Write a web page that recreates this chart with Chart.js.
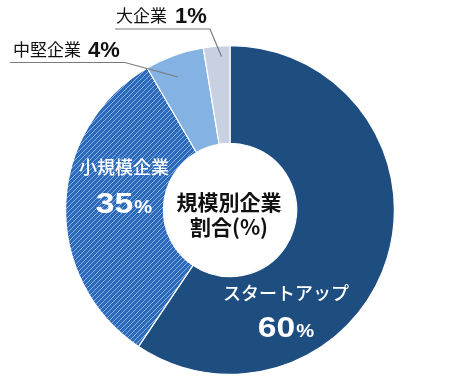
<!DOCTYPE html>
<html><head><meta charset="utf-8">
<script src="https://cdn.jsdelivr.net/npm/chart.js@4"></script>
<style>html,body{margin:0;padding:0;background:#fff}#wrap{width:450px;height:380px;position:relative}</style>
</head><body><div id="wrap"><canvas id="c" width="450" height="380"></canvas></div>
<script>
// Data (slice sizes as drawn, in %)
const categories = ['スタートアップ', '小規模企業', '中堅企業', '大企業'];
const sliceValues = [59.4, 32.2, 5.8, 2.6];
const labelPercents = ['60', '35', '4', '1'];
const centerTitle = ['規模別企業', '割合(%)'];

const JP = '"Noto Sans CJK JP", "Noto Sans", sans-serif';
const NUM = '"Liberation Sans", Arial, sans-serif';

function hatch(){
  const s = 5;
  const p = document.createElement('canvas');
  p.width = s; p.height = s;
  const g = p.getContext('2d');
  g.fillStyle = '#2d6bba';
  g.fillRect(0,0,s,s);
  g.strokeStyle = 'rgba(150,190,240,0.85)';
  g.lineWidth = 1;
  g.beginPath();
  g.moveTo(-1, s+1); g.lineTo(s+1, -1);
  g.moveTo(-1, 1); g.lineTo(1, -1);
  g.moveTo(s-1, s+1); g.lineTo(s+1, s-1);
  g.stroke();
  return document.getElementById('c').getContext('2d').createPattern(p, 'repeat');
}

const labelsPlugin = {
  id: 'labels',
  afterDraw(chart){
    const ctx = chart.ctx;
    const arc = chart.getDatasetMeta(0).data[0];
    const cx = arc.x, cy = arc.y;
    ctx.save();
    // center title
    ctx.fillStyle = '#111';
    ctx.textAlign = 'center';
    ctx.textBaseline = 'alphabetic';
    ctx.font = 'bold 21px ' + JP;
    ctx.fillText(centerTitle[0], cx - 1, cy - 0.5);
    ctx.fillText(centerTitle[1], cx - 1, cy + 24.5);

    // inner labels
    function inner(name, pct, x, yName, yPct){
      ctx.fillStyle = '#fff';
      ctx.textAlign = 'center';
      ctx.font = '500 18px ' + JP;
      ctx.fillText(name, x, yName);
      const sx = 1.12;
      ctx.font = 'bold 30px ' + NUM;
      const w1 = ctx.measureText(pct).width * sx;
      ctx.font = 'bold 18px ' + NUM;
      const w2 = ctx.measureText('%').width * sx;
      const left = x - (w1 + w2 + 1) / 2;
      ctx.save();
      ctx.translate(left, yPct);
      ctx.scale(sx, 1);
      ctx.textAlign = 'left';
      ctx.font = 'bold 30px ' + NUM;
      ctx.fillText(pct, 0, 0);
      ctx.font = 'bold 18px ' + NUM;
      ctx.fillText('%', (w1 + 1) / sx, 0);
      ctx.restore();
    }
    inner(categories[0], labelPercents[0], cx + 56, cy + 90, cy + 127);
    inner(categories[1], labelPercents[1], cx - 106, cy - 36, cy + 2.5);

    // outer labels with leader lines
    function outer(name, pct, x, yName, yPct, gap, line){
      ctx.fillStyle = '#111';
      ctx.textAlign = 'left';
      ctx.font = '17px ' + JP;
      ctx.fillText(name, x, yName);
      const w = ctx.measureText(name).width;
      ctx.font = 'bold 22px ' + NUM;
      ctx.fillText(pct + '%', x + w + gap, yPct);
      ctx.strokeStyle = '#7a7a7a';
      ctx.lineWidth = 1.2;
      ctx.beginPath();
      ctx.moveTo(line[0], line[1]);
      ctx.lineTo(line[2], line[1]);
      ctx.lineTo(line[3], line[4]);
      ctx.stroke();
    }
    outer(categories[3], labelPercents[3], cx - 114, cy - 188.5, cy - 187, 8,
      [cx - 115, cy - 181, cx - 20, cx - 8.5, cy - 153.5]);
    outer(categories[2], labelPercents[2], cx - 217, cy - 154.5, cy - 153, 7,
      [cx - 220, cy - 147.5, cx - 105, cx - 52, cy - 133]);
    ctx.restore();
  }
};

new Chart(document.getElementById('c'), {
  type: 'doughnut',
  data: {
    labels: categories,
    datasets: [{
      data: sliceValues,
      backgroundColor: ['#1e4d80', hatch(), '#84b2e3', '#c7d1e1'],
      borderColor: '#ffffff',
      borderWidth: 1.2,
      hoverOffset: 0
    }]
  },
  options: {
    responsive: false,
    animation: false,
    cutout: '40.5%',
    rotation: 0,
    layout: { padding: { left: 65, right: 55, top: 45, bottom: 5 } },
    plugins: { legend: { display: false }, tooltip: { enabled: false } },
    events: []
  },
  plugins: [labelsPlugin]
});
</script></body></html>
